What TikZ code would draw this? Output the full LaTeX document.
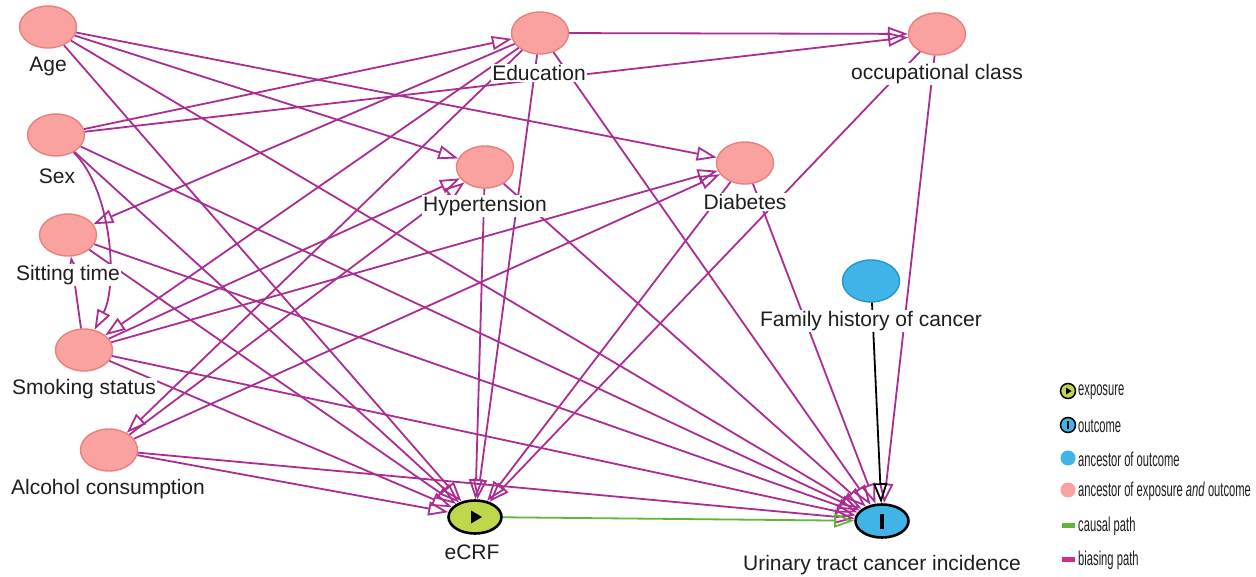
\documentclass[tikz,border=0pt]{standalone}
\usepackage{fontspec}
\setmainfont{Liberation Sans}
\usepackage{graphicx}
\usetikzlibrary{arrows.meta,shapes.geometric}

\definecolor{conf}{RGB}{249,162,160}
\definecolor{confb}{RGB}{234,128,124}
\definecolor{anc}{RGB}{64,180,230}
\definecolor{ancb}{RGB}{40,150,205}
\definecolor{expo}{RGB}{190,215,75}
\definecolor{bias}{RGB}{170,45,145}
\definecolor{biasl}{RGB}{210,45,140}
\definecolor{caus}{RGB}{100,180,60}
\definecolor{txt}{RGB}{30,30,30}

\newcommand{\narrowtxt}[1]{\scalebox{0.56}[1]{#1}}

\begin{document}
\begin{tikzpicture}[
  x=1pt,y=-1pt,
  font=\fontsize{21}{24}\selectfont,
  c/.style={ellipse,draw=confb,line width=1.4pt,fill=conf,minimum width=57pt,
            minimum height=42pt,inner sep=0pt},
  a/.style={c,draw=ancb,fill=anc},
  e/.style={ellipse,draw=black,line width=2.6pt,fill=expo,minimum width=53pt,
            minimum height=33pt,inner sep=0pt},
  o/.style={e,fill=anc},
  lb/.style={fill=white,text=txt,inner sep=1.5pt},
  bp/.style={draw=bias,line width=1.8pt,-{Triangle[open,length=20pt,width=14pt]}},
  cp/.style={bp,draw=caus},
  kp/.style={bp,draw=black},
  li/.style={circle,minimum size=15pt,inner sep=0pt},
  lt/.style={anchor=west,text=txt,inner sep=0pt,font=\fontsize{20}{22}\selectfont}]

\fill[white] (0,0) rectangle (1256,577);
\useasboundingbox (0,0) rectangle (1256,577);

% ancestors of exposure and outcome
\node[c] (age) at (48,27) {};
\node[c] (sex) at (56,135) {};
\node[c] (sit) at (68,235) {};
\node[c] (smk) at (84,350) {};
\node[c] (alc) at (109,450) {};
\node[c] (edu) at (540,33) {};
\node[c] (occ) at (937,34) {};
\node[c] (hyp) at (485,167) {};
\node[c] (dia) at (745,163) {};

% ancestor of outcome, exposure, outcome
\node[a] (fam) at (871,281) {};
\node[e] (ecrf) at (475,517) {};
\node[o] (utc) at (882,521) {};

\foreach \s/\t in {age/hyp,age/dia,age/ecrf,age/utc,
                   sex/edu,sex/occ,sex/ecrf,sex/utc,
                   sit/ecrf,sit/utc,
                   smk/sit,smk/hyp,smk/dia,smk/ecrf,smk/utc,
                   alc/hyp,alc/dia,alc/ecrf,alc/utc,
                   edu/occ,edu/sit,edu/smk,edu/alc,edu/ecrf,edu/utc,
                   occ/ecrf,occ/utc,hyp/ecrf,hyp/utc,dia/ecrf,dia/utc}
  { \draw[bp] (\s) -- (\t); }
\draw[bp] (sex) .. controls (112,190) and (118,285) .. (smk);
\draw[kp] (fam) -- (utc);
\draw[cp] (ecrf) -- (utc);

% node marks
\fill (ecrf.center) ++(-4,-6.5) -- ++(11,6.5) -- ++(-11,6.5) -- cycle;
\fill ([xshift=-2pt,yshift=7.5pt]utc.center) rectangle ++(4,15);

% labels
\node[lb] (ageL) at (48,66) {Age};
\node[lb] (sexL) at (57,176) {Sex};
\node[lb] (sitL) at (68,275) {Sitting time};
\node[lb] (smkL) at (84,389) {Smoking status};
\node[lb] (alcL) at (108,489) {Alcohol consumption};
\node[lb] (eduL) at (539,73) {Education};
\node[lb] (occL) at (937,74) {occupational class};
\node[lb] (hypL) at (485,206) {Hypertension};
\node[lb] (diaL) at (745,202) {Diabetes};
\node[lb] (famL) at (871,321) {Family history of cancer};
\node[lb] (ecrfL) at (472,552) {eCRF};
\node[lb] (utcL) at (882,565) {Urinary tract cancer incidence};

% legend
\node[li,fill=expo,draw=black,line width=1.5pt] (lex) at (1068,391) {};
\fill (lex.center) ++(-2,-3.5) -- ++(5.5,3.5) -- ++(-5.5,3.5) -- cycle;
\node[lt] (lexT) at (1078,392) {\narrowtxt{exposure}};
\node[li,fill=anc,draw=black,line width=1.5pt] (lou) at (1068,425) {};
\fill ([xshift=-1pt,yshift=4pt]lou.center) rectangle ++(2,8);
\node[lt] (louT) at (1078,426) {\narrowtxt{outcome}};
\node[li,fill=anc] (lan) at (1068,458) {};
\node[lt] (lanT) at (1078,459) {\narrowtxt{ancestor of outcome}};
\node[li,fill=conf] (lce) at (1068,490) {};
\node[lt] (lceT) at (1078,491) {\narrowtxt{ancestor of exposure \emph{and} outcome}};
\node[fill=caus,minimum width=13pt,minimum height=5pt,inner sep=0pt] (lcp) at (1068,525) {};
\node[lt] (lcpT) at (1078,526) {\narrowtxt{causal path}};
\node[fill=biasl,minimum width=13pt,minimum height=5pt,inner sep=0pt] (lbp) at (1068,559) {};
\node[lt] (lbpT) at (1078,560) {\narrowtxt{biasing path}};
\end{tikzpicture}
\end{document}
